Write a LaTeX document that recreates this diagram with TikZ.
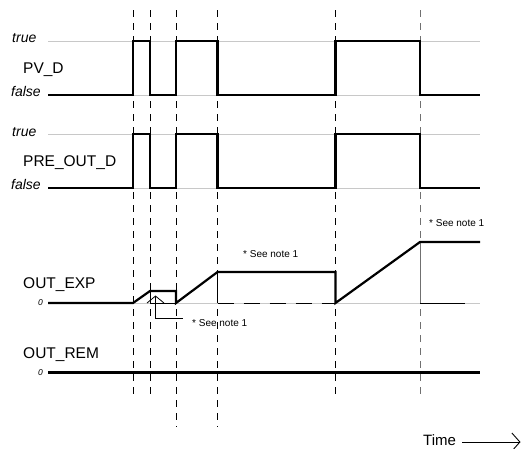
\documentclass[tikz,border=0pt]{standalone}
\usepackage{fontspec}
\setmainfont{Liberation Sans}
\usetikzlibrary{arrows.meta}
\definecolor{guide}{HTML}{C8C8C8}
\definecolor{markgray}{HTML}{707070}
\begin{document}
\begin{tikzpicture}[x=1pt,y=-1pt,
  sig/.style={line width=2.2pt, line join=miter},
  guideline/.style={draw=guide, line width=1pt},
  marker/.style={line width=0.9pt, dash pattern=on 7pt off 6pt},
  thinline/.style={line width=0.8pt},
  lbl/.style={font=\fontsize{15.5}{18}\selectfont, anchor=base west, inner sep=0pt},
  lvl/.style={font=\itshape\fontsize{14}{16}\selectfont, anchor=base west, inner sep=0pt},
  zero/.style={font=\itshape\fontsize{8.5}{10}\selectfont, anchor=base west, inner sep=0pt},
  note/.style={font=\fontsize{10}{12}\selectfont, anchor=west, inner sep=0pt}]
\useasboundingbox (0,0) rectangle (521,448);

% guide lines
\foreach \yy in {41,95,134,188,303}
  \draw[guideline] (48,\yy) -- (480,\yy);

% vertical dashed markers
\draw[marker] (133,10) -- (133,397);
\draw[marker] (150,10) -- (150,397);
\draw[marker] (176,10) -- (176,427);
\draw[marker] (217.5,10) -- (217.5,427);
\draw[marker] (335.5,10) -- (335.5,397);
\draw[marker, draw=markgray] (420,10) -- (420,397);

% labels
\node[lvl] (t1) at (12,42) {true};
\node[lbl] (pvd) at (23,73) {PV\_D};
\node[lvl] (f1) at (11,96.5) {false};
\node[lvl] (t2) at (12,136) {true};
\node[lbl] (pre) at (23,166) {PRE\_OUT\_D};
\node[lvl] (f2) at (11,189.5) {false};
\node[lbl] (exp) at (23,288) {OUT\_EXP};
\node[zero] (z1) at (38,305.5) {0};
\node[lbl] (rem) at (23,358) {OUT\_REM};
\node[zero] (z2) at (38,375.5) {0};

% PV_D
\draw[sig] (48,95) -- (133,95) -- (133,41) -- (150,41) -- (150,95) -- (176,95) -- (176,41)
  -- (217.5,41) -- (217.5,95) -- (335.5,95) -- (335.5,41) -- (420,41) -- (420,95) -- (480,95);
% PRE_OUT_D
\draw[sig] (48,188) -- (133,188) -- (133,134) -- (150,134) -- (150,188) -- (176,188) -- (176,134)
  -- (217.5,134) -- (217.5,188) -- (335.5,188) -- (335.5,134) -- (420,134) -- (420,188) -- (480,188);

% OUT_EXP helper lines
\draw[thinline] (150,291) -- (150,303) -- (176,303);
\draw[thinline] (217.5,272) -- (217.5,303);
\draw[thinline, dash pattern=on 16pt off 10pt] (217.5,303) -- (335.5,303);
\draw[thinline, draw=markgray] (420,242) -- (420,303);
\draw[thinline] (420,303) -- (465,303);

% OUT_EXP
\draw[sig] (48,303) -- (133,303) -- (150,291) -- (176,291) -- (176,303) -- (217.5,272)
  -- (335.5,272) -- (335.5,303) -- (420,242) -- (480,242);
% OUT_REM
\draw[sig] (48,372.5) -- (480,372.5);

% notes
\node[note] (n1) at (192,323) {* See note 1};
\node[note] (n2) at (243,254) {* See note 1};
\node[note] (n3) at (429,223) {* See note 1};
\coordinate (apex) at (155.5,295.5);
\coordinate (leadend) at (183,318);
\draw[thinline, {Straight Barb[length=7pt,width=17pt]}-] (apex) |- (leadend);

% time arrow
\node[font=\fontsize{15}{18}\selectfont, anchor=base west, inner sep=0pt] (time) at (423,445.5) {Time};
\coordinate (tend) at (520.5,442);
\draw[line width=0.9pt, -{Straight Barb[length=8pt,width=18pt]}] (time.east |- tend) ++(6,0) -- (tend);
\end{tikzpicture}
\end{document}
